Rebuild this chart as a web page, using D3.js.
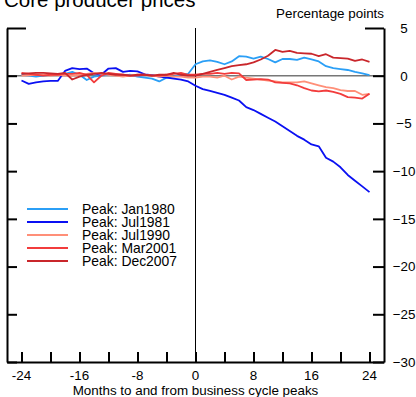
<!DOCTYPE html>
<html>
<head>
<meta charset="utf-8">
<script src="https://cdn.jsdelivr.net/npm/d3@7"></script>
<style>
  html, body { margin: 0; padding: 0; background: #fff; }
  svg { display: block; font-family: "Liberation Sans", Arial, sans-serif; }
</style>
</head>
<body>
<svg id="chart" width="416" height="397"></svg>
<script>
// Months relative to the business cycle peak
const months = d3.range(-24, 25);

// Core producer prices, percentage points relative to the peak month
const jan1980 = [0.1, 0.0, -0.1, 0.0, 0.1, 0.1, 0.2, 0.4, 0.1, -0.45, -0.1, 0.0, 0.1, 0.15, 0.0, 0.1, -0.1, -0.2, -0.3, -0.6, -0.2, -0.1, 0.1, 0.2,
  1.2, 1.5, 1.6, 1.45, 1.2, 1.5, 2.05, 2.0, 1.8, 2.0, 1.75, 1.4, 1.75, 1.75, 1.65, 1.9, 1.7, 1.5, 1.0, 0.8, 0.7, 0.6, 0.4, 0.25, 0.05];
const jul1981 = [-0.5, -0.85, -0.7, -0.6, -0.55, -0.55, 0.5, 0.8, 0.7, 0.75, 0.25, 0.1, 0.75, 0.8, 0.4, 0.5, 0.45, 0.15, 0.05, -0.1, -0.2, -0.3, -0.4, -0.6,
  -1.05, -1.4, -1.6, -1.8, -2.0, -2.3, -2.6, -3.3, -3.6, -4.0, -4.4, -4.8, -5.3, -5.8, -6.3, -6.7, -7.2, -7.4, -8.6, -9.0, -9.6, -10.4, -11.0, -11.6, -12.2];
const jul1990 = [0.0, 0.05, 0.1, 0.1, 0.0, 0.1, 0.0, 0.0, 0.1, 0.2, 0.3, 0.2, 0.1, 0.0, -0.1, 0.0, 0.1, 0.1, 0.0, -0.1, 0.0, -0.1, -0.1, -0.2,
  -0.2, -0.1, -0.1, -0.2, 0.0, -0.4, -0.1, -0.2, -0.3, -0.4, -0.5, -0.6, -0.7, -0.7, -0.7, -0.6, -0.8, -1.0, -1.2, -1.3, -1.5, -1.6, -1.6, -2.0, -1.9];
const mar2001 = [0.3, 0.2, 0.1, 0.0, 0.1, 0.1, 0.2, 0.2, 0.3, 0.1, -0.7, 0.0, 0.3, 0.2, 0.1, 0.0, 0.0, 0.1, 0.0, 0.0, 0.1, 0.2, 0.3, 0.1,
  0.1, 0.2, 0.2, 0.3, 0.2, 0.3, 0.25, -0.45, -0.4, -0.35, -0.4, -0.7, -0.75, -0.8, -1.0, -1.3, -1.55, -1.65, -1.55, -1.7, -1.9, -2.25, -2.3, -2.4, -1.9];
const dec2007 = [0.2, 0.25, 0.3, 0.3, 0.25, 0.2, 0.3, -0.4, -0.1, 0.1, 0.2, 0.3, 0.2, 0.1, 0.1, 0.0, 0.1, 0.1, 0.0, 0.1, 0.1, 0.3, 0.1, 0.0,
  0.0, 0.2, 0.4, 0.6, 0.8, 1.0, 1.1, 1.2, 1.4, 1.7, 2.1, 2.7, 2.5, 2.6, 2.4, 2.35, 2.3, 2.05, 2.25, 1.9, 1.85, 1.8, 1.55, 1.7, 1.45];

const seriesNames = ["Peak: Jan1980", "Peak: Jul1981", "Peak: Jul1990", "Peak: Mar2001", "Peak: Dec2007"];
const seriesValues = [jan1980, jul1981, jul1990, mar2001, dec2007];
const seriesColors = ["#2b9ff6", "#0a10f2", "#ff8f78", "#f23c3c", "#c9262b"];

const xTicks = d3.range(-24, 25, 4);
const xTickLabels = [-24, -16, -8, 0, 8, 16, 24];
const yTicks = [5, 0, -5, -10, -15, -20, -25, -30];

const svg = d3.select("#chart");
const plotLeft = 7, plotRight = 384, plotTop = 28, plotBottom = 362;

const x = d3.scaleLinear().domain([-26, 26]).range([plotLeft, plotRight]);
const y = d3.scaleLinear().domain([-30, 5]).range([plotBottom, plotTop]);

// Title and unit label
svg.append("text").attr("x", 4).attr("y", 7).attr("font-size", 20.5).text("Core producer prices");
svg.append("text").attr("x", 384).attr("y", 18).attr("font-size", 13.4).attr("text-anchor", "end").text("Percentage points");

// Zero reference line
svg.append("line")
  .attr("x1", plotLeft).attr("x2", plotRight).attr("y1", y(0)).attr("y2", y(0))
  .attr("stroke", "#777").attr("stroke-width", 1.5);

// Peak marker
svg.append("line")
  .attr("x1", x(0)).attr("x2", x(0)).attr("y1", plotTop).attr("y2", plotBottom)
  .attr("stroke", "#000").attr("stroke-width", 1);

// Series lines
const line = d3.line().x((d, i) => x(months[i])).y(d => y(d));
seriesValues.forEach((vals, k) => {
  svg.append("path")
    .datum(vals)
    .attr("d", line)
    .attr("fill", "none")
    .attr("stroke", seriesColors[k])
    .attr("stroke-width", 1.8)
    .attr("stroke-linejoin", "round");
});

// Left axis: ticks only, pointing inward
const leftAxis = d3.axisRight(y).tickValues(yTicks).tickFormat("").tickSize(10).tickSizeOuter(0);
const gl = svg.append("g").attr("transform", `translate(${plotLeft},0)`).call(leftAxis);
gl.select(".domain").attr("stroke-width", 2);
gl.selectAll(".tick line").attr("stroke-width", 2)
  .attr("x2", d => d === 5 ? 19 : 10);

// Right axis: ticks inward, labels outside
const rightAxis = d3.axisLeft(y).tickValues(yTicks).tickFormat(d3.format("d")).tickSize(11).tickSizeOuter(0);
const gr = svg.append("g").attr("transform", `translate(${plotRight},0)`).call(rightAxis);
gr.select(".domain").attr("stroke-width", 2);
gr.selectAll(".tick line").attr("stroke-width", 2)
  .attr("x2", d => d === 5 ? -19 : -11);
gr.selectAll(".tick text")
  .attr("x", 20).attr("text-anchor", "middle")
  .attr("font-size", 13.4).attr("font-family", "Liberation Sans, Arial, sans-serif").attr("fill", "#000");

// Bottom axis: ticks inward
const bottomAxis = d3.axisTop(x).tickValues(xTicks).tickFormat("").tickSize(10).tickSizeOuter(0);
const gb = svg.append("g").attr("transform", `translate(0,${plotBottom})`).call(bottomAxis);
gb.select(".domain").attr("stroke-width", 2);
gb.selectAll(".tick line").attr("stroke-width", 2);

svg.append("g").selectAll("text")
  .data(xTickLabels).join("text")
  .attr("x", d => x(d)).attr("y", 380)
  .attr("text-anchor", "middle").attr("font-size", 13.4)
  .text(d => d);

svg.append("text")
  .attr("x", x(0)).attr("y", 395)
  .attr("text-anchor", "middle").attr("font-size", 13.4)
  .text("Months to and from business cycle peaks");

// Legend
const legend = svg.append("g");
seriesNames.forEach((name, k) => {
  const ly = 209 + k * 13;
  legend.append("line")
    .attr("x1", 27).attr("x2", 68).attr("y1", ly).attr("y2", ly)
    .attr("stroke", seriesColors[k]).attr("stroke-width", 1.8);
  legend.append("text")
    .attr("x", 82).attr("y", ly + 5)
    .attr("font-size", 13.9)
    .text(name);
});
</script>
</body>
</html>
